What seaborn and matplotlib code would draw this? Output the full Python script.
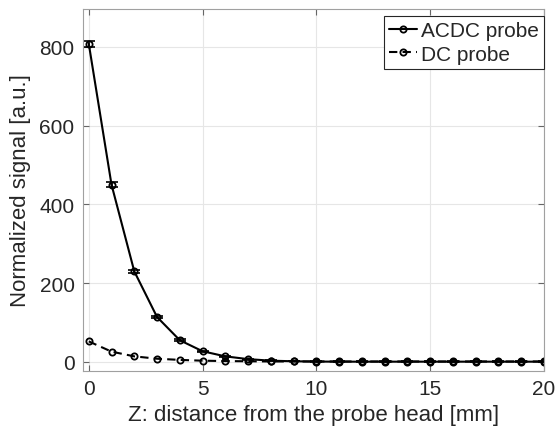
import numpy as np
import pandas as pd
import matplotlib
matplotlib.use('Agg')
import matplotlib.pyplot as plt
import seaborn as sns

# 数据
z_mm = list(range(0, 21))
acdc_signal = [808, 450, 230, 114, 55, 27, 14, 7, 3, 1.5, 0.8, 0.5, 0.5, 0.5, 0.5, 0.5, 0.5, 0.5, 0.5, 0.5, 0.5]
acdc_err = [8, 6, 4, 3, 2, 1.5, 1, 1, 0.5, 0.5, 0.5, 0.5, 0.5, 0.5, 0.5, 0.5, 0.5, 0.5, 0.5, 0.5, 0.5]
dc_signal = [52, 26, 14, 8, 5, 3, 2, 1.5, 1, 1, 1, 1, 1, 1, 1, 1, 1, 1, 1, 1, 1]

df = pd.DataFrame({
    'z': z_mm * 2,
    'signal': acdc_signal + dc_signal,
    'probe': ['ACDC probe'] * len(z_mm) + ['DC probe'] * len(z_mm),
})

sns.set_style("whitegrid")
plt.rcParams['font.family'] = ['Liberation Sans', 'DejaVu Sans']

fig = plt.figure(figsize=(5.56, 4.35), dpi=100)
ax = fig.add_axes([0.149, 0.145, 0.829, 0.832])

sns.lineplot(
    data=df, x='z', y='signal', hue='probe', style='probe',
    palette=['black', 'black'], dashes=[(None, None), (4, 2.5)],
    markers=['o', 'o'], markersize=4.5, markerfacecolor='none',
    markeredgecolor='black', markeredgewidth=1.3, linewidth=1.5, ax=ax,
)
ax.errorbar(z_mm, acdc_signal, yerr=acdc_err, fmt='none', ecolor='black',
            elinewidth=1.2, capsize=4, capthick=1.2)

ax.set_xlim(-0.26, 20)
ax.set_ylim(-23, 896)
ax.set_xticks([0, 5, 10, 15, 20])
ax.set_yticks([0, 200, 400, 600, 800])
ax.set_xlabel('Z: distance from the probe head [mm]', fontsize=16, color='#262626', labelpad=4)
ax.set_ylabel('Normalized signal [a.u.]', fontsize=16, color='#262626', labelpad=6)
ax.tick_params(labelsize=15, labelcolor='#262626', color='#666666', direction='in',
               length=4, width=0.8, pad=6,
               top=True, right=True, bottom=True, left=True)
ax.grid(True, color='#e6e6e6', linewidth=0.8)
for s in ax.spines.values():
    s.set_color('#a0a0a0')
    s.set_linewidth(0.8)

leg = ax.legend(loc='upper right', bbox_to_anchor=(1.0, 0.98), fontsize=15,
                frameon=True, fancybox=False,
                handlelength=1.3, handletextpad=0.2, borderpad=0.25,
                labelspacing=0.2, borderaxespad=0)
leg.get_frame().set_edgecolor('#262626')
leg.get_frame().set_linewidth(0.8)
leg.get_frame().set_alpha(1)

fig.savefig('out.png', dpi=100)
